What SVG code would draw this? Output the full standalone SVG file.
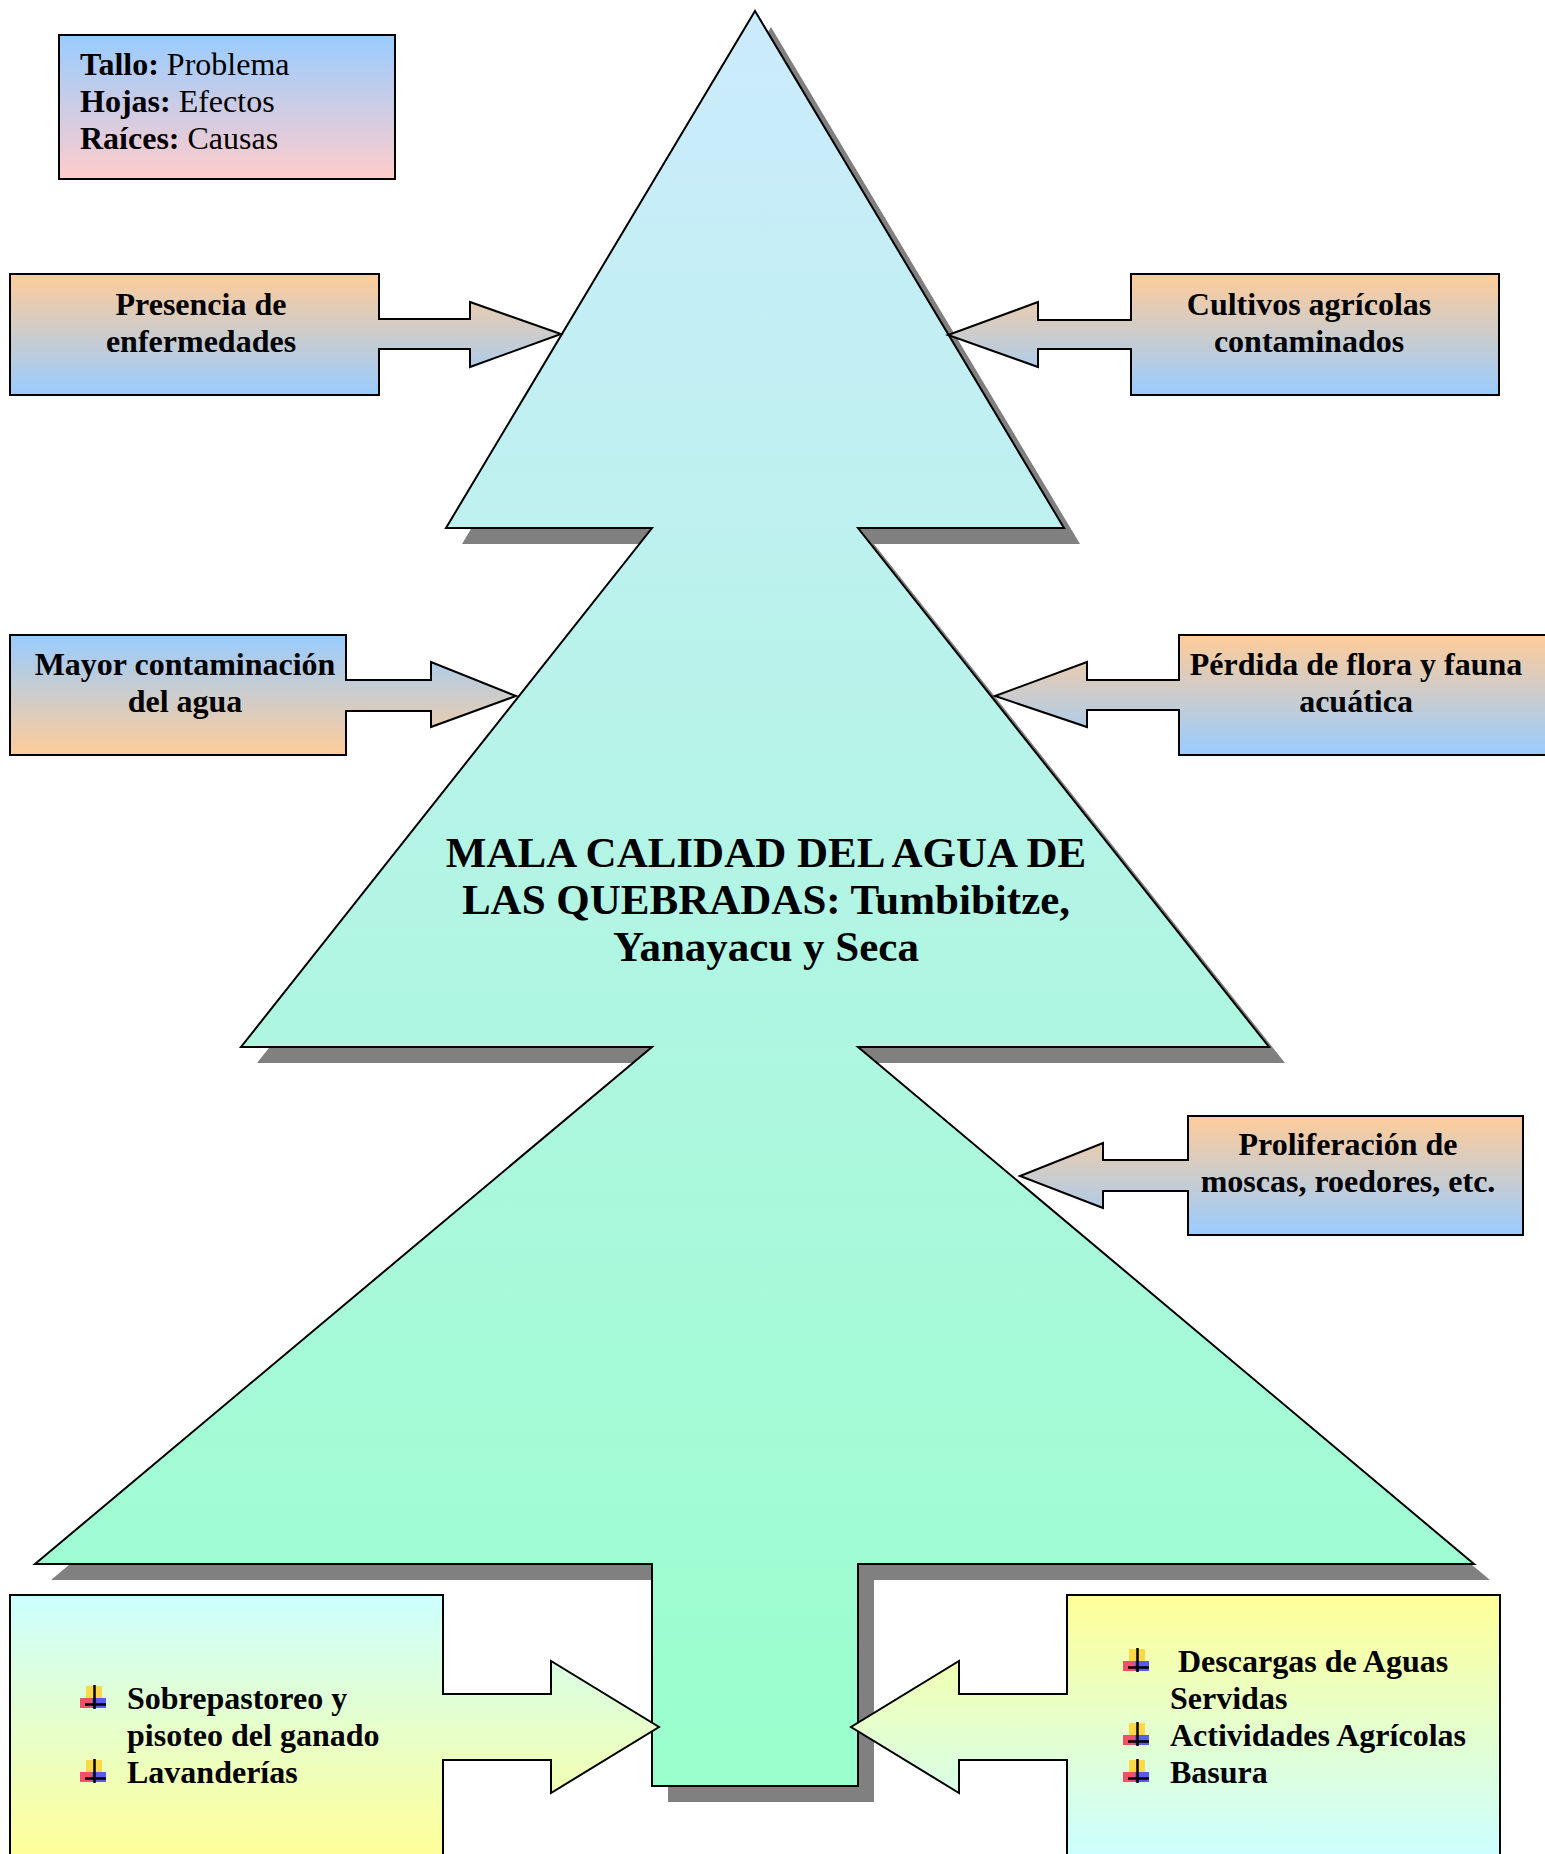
<svg xmlns="http://www.w3.org/2000/svg" xmlns:xlink="http://www.w3.org/1999/xlink" width="1545" height="1854" viewBox="0 0 1545 1854">
<style>
  text { font-family: "Liberation Serif", "Times New Roman", serif; fill: #000; }
  .lbl { font-size: 32px; font-weight: bold; text-anchor: middle; }
  .leg { font-size: 32px; }
  .b { font-weight: bold; }
  .item { font-size: 32px; font-weight: bold; }
  .title { font-size: 43px; font-weight: bold; text-anchor: middle; }
  .shape { stroke: #000; stroke-width: 2; stroke-linejoin: miter; }
</style>
<defs>
  <linearGradient id="gTree" x1="0" y1="0" x2="0" y2="1">
    <stop offset="0" stop-color="#CCEBFD"/>
    <stop offset="1" stop-color="#99FFCC"/>
  </linearGradient>
  <linearGradient id="gOB" x1="0" y1="0" x2="0" y2="1">
    <stop offset="0" stop-color="#FFCC99"/>
    <stop offset="1" stop-color="#99CCFF"/>
  </linearGradient>
  <linearGradient id="gBO" x1="0" y1="0" x2="0" y2="1">
    <stop offset="0" stop-color="#99CCFF"/>
    <stop offset="1" stop-color="#FFCC99"/>
  </linearGradient>
  <linearGradient id="gBP" x1="0" y1="0" x2="0" y2="1">
    <stop offset="0" stop-color="#99CCFF"/>
    <stop offset="1" stop-color="#FFCCCC"/>
  </linearGradient>
  <linearGradient id="gCY" gradientUnits="userSpaceOnUse" x1="0" y1="1595" x2="0" y2="1854">
    <stop offset="0" stop-color="#CCFFFF"/>
    <stop offset="1" stop-color="#FFFF99"/>
  </linearGradient>
  <linearGradient id="gYC" gradientUnits="userSpaceOnUse" x1="0" y1="1595" x2="0" y2="1854">
    <stop offset="0" stop-color="#FFFF99"/>
    <stop offset="1" stop-color="#CCFFFF"/>
  </linearGradient>
  <g id="bullet">
    <rect x="6" y="-23" width="16" height="14" fill="#FFD84A"/>
    <rect x="0" y="-11" width="12" height="10" fill="#F0506A"/>
    <rect x="12" y="-11" width="14" height="10" fill="#5A5AF0"/>
    <line x1="14.5" y1="-24" x2="14.5" y2="0" stroke="#000" stroke-width="2.5"/>
    <line x1="5" y1="-4.5" x2="26" y2="-4.5" stroke="#000" stroke-width="2.5"/>
  </g>
</defs>
<rect width="1545" height="1854" fill="#fff"/>

<g id="tree">
  <polygon transform="translate(16,16)" fill="#808080" points="755,11 1064,528 858,528 1269,1047 858,1047 1474,1564 858,1564 858,1786 652,1786 652,1564 35,1564 652,1047 241,1047 652,528 446,528"/>
  <polygon class="shape" fill="url(#gTree)" points="755,11 1064,528 858,528 1269,1047 858,1047 1474,1564 858,1564 858,1786 652,1786 652,1564 35,1564 652,1047 241,1047 652,528 446,528"/>
  <text class="title" x="766" y="867">MALA CALIDAD DEL AGUA DE</text>
  <text class="title" x="766" y="914">LAS QUEBRADAS: Tumbibitze,</text>
  <text class="title" x="766" y="961">Yanayacu y Seca</text>
</g>

<g id="legend">
  <rect class="shape" x="59" y="35" width="336" height="144" fill="url(#gBP)"/>
  <text class="leg" x="80" y="75"><tspan class="b">Tallo:</tspan> Problema</text>
  <text class="leg" x="80" y="112"><tspan class="b">Hojas:</tspan> Efectos</text>
  <text class="leg" x="80" y="149"><tspan class="b">Raíces:</tspan> Causas</text>
</g>

<g id="connectors">
  <path id="c-presencia" class="shape" fill="url(#gOB)" d="M10,274 H379 V319 H470 V302 L561,334 L470,367 V349 H379 V395 H10 Z"/>
  <path id="c-cultivos" class="shape" fill="url(#gOB)" d="M1131,274 H1499 V395 H1131 V349 H1038 V367 L948,335 L1038,302 V320 H1131 Z"/>
  <path id="c-mayor" class="shape" fill="url(#gBO)" d="M10,635 H346 V680 H431 V662 L516,696 L431,727 V711 H346 V755 H10 Z"/>
  <path id="c-perdida" class="shape" fill="url(#gOB)" d="M1179,635 H1552 V755 H1179 V710 H1087 V727 L995,696 L1087,662 V680 H1179 Z"/>
  <path id="c-prolif" class="shape" fill="url(#gOB)" d="M1188,1116 H1523 V1235 H1188 V1191 H1103 V1208 L1020,1176 L1103,1143 V1160 H1188 Z"/>
  <path id="c-causas-izq" class="shape" fill="url(#gCY)" d="M10,1595 H443 V1694 H551 V1661 L659,1727 L551,1793 V1760 H443 V1862 H10 Z"/>
  <path id="c-causas-der" class="shape" fill="url(#gYC)" d="M1067,1595 H1500 V1862 H1067 V1760 H959 V1793 L851,1727 L959,1661 V1694 H1067 Z"/>
</g>

<g id="n-presencia">
  <text class="lbl" x="201" y="315">Presencia de</text>
  <text class="lbl" x="201" y="352">enfermedades</text>
</g>
<g id="n-cultivos">
  <text class="lbl" x="1309" y="315">Cultivos agrícolas</text>
  <text class="lbl" x="1309" y="352">contaminados</text>
</g>
<g id="n-mayor">
  <text class="lbl" x="185" y="675">Mayor contaminación</text>
  <text class="lbl" x="185" y="712">del agua</text>
</g>
<g id="n-perdida">
  <text class="lbl" x="1356" y="675">Pérdida de flora y fauna</text>
  <text class="lbl" x="1356" y="712">acuática</text>
</g>
<g id="n-prolif">
  <text class="lbl" x="1348" y="1155">Proliferación de</text>
  <text class="lbl" x="1348" y="1192">moscas, roedores, etc.</text>
</g>
<g id="n-causas-izq">
  <use xlink:href="#bullet" x="80" y="1709"/>
  <text class="item" x="127" y="1709">Sobrepastoreo y</text>
  <text class="item" x="127" y="1746">pisoteo del ganado</text>
  <use xlink:href="#bullet" x="80" y="1783"/>
  <text class="item" x="127" y="1783">Lavanderías</text>
</g>
<g id="n-causas-der">
  <use xlink:href="#bullet" x="1123" y="1672"/>
  <text class="item" x="1178" y="1672">Descargas de Aguas</text>
  <text class="item" x="1170" y="1709">Servidas</text>
  <use xlink:href="#bullet" x="1123" y="1746"/>
  <text class="item" x="1170" y="1746">Actividades Agrícolas</text>
  <use xlink:href="#bullet" x="1123" y="1783"/>
  <text class="item" x="1170" y="1783">Basura</text>
</g>
</svg>
